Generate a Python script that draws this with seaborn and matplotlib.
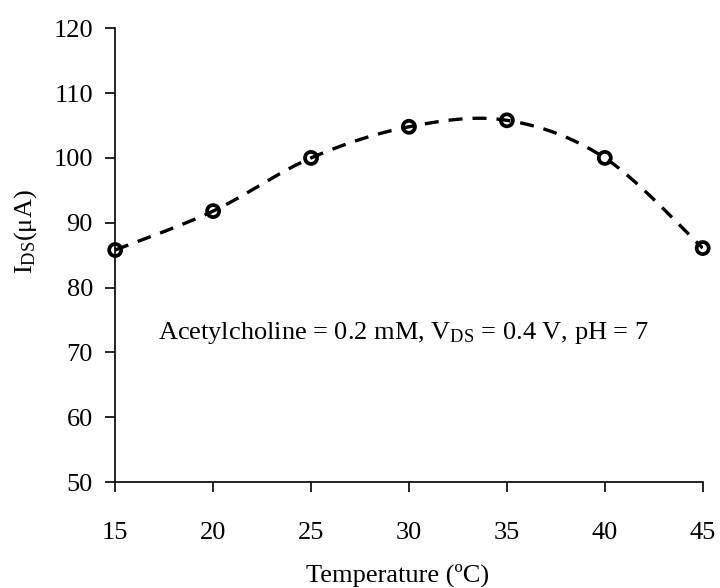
import numpy as np
import pandas as pd
import matplotlib
matplotlib.use("Agg")
import matplotlib.pyplot as plt
import seaborn as sns

temperature = [15, 20, 25, 30, 35, 40, 45]
current = [85.8, 91.8, 100.0, 104.8, 105.8, 100.0, 86.1]
x_ticks = [15, 20, 25, 30, 35, 40, 45]
y_ticks = [50, 60, 70, 80, 90, 100, 110, 120]
annotation = "Acetylcholine = 0.2 mM, V$_{\\mathrm{DS}}$ = 0.4 V, pH = 7"
xlabel = "Temperature (ºC)"
ylabel = "I$_{\\mathrm{DS}}$(μA)"

sns.set_theme(style="white")
plt.rcParams["font.family"] = ["Liberation Serif", "DejaVu Serif"]
plt.rcParams["mathtext.fontset"] = "custom"
plt.rcParams["mathtext.rm"] = "Liberation Serif"
plt.rcParams["mathtext.it"] = "Liberation Serif:italic"

df = pd.DataFrame({"T": temperature, "I": current})

# Excel-style smoothed line (Catmull-Rom Bezier) through the points
def smooth(xs, ys, n=40):
    xs = np.asarray(xs, float); ys = np.asarray(ys, float)
    px = np.concatenate([[xs[0]], xs, [xs[-1]]])
    py = np.concatenate([[ys[0]], ys, [ys[-1]]])
    ox, oy = [], []
    t = np.linspace(0, 1, n)
    for i in range(1, len(px) - 2):
        p0 = np.array([px[i], py[i]]); p3 = np.array([px[i + 1], py[i + 1]])
        c1 = p0 + (np.array([px[i + 1], py[i + 1]]) - np.array([px[i - 1], py[i - 1]])) / 6
        c2 = p3 - (np.array([px[i + 2], py[i + 2]]) - np.array([px[i], py[i]])) / 6
        b = ((1 - t) ** 3)[:, None] * p0 + (3 * (1 - t) ** 2 * t)[:, None] * c1 \
            + (3 * (1 - t) * t ** 2)[:, None] * c2 + (t ** 3)[:, None] * p3
        ox.extend(b[:, 0]); oy.extend(b[:, 1])
    return np.array(ox), np.array(oy)

sx, sy = smooth(temperature, current)

fig = plt.figure(figsize=(7.2, 5.88), dpi=100)
ax = fig.add_axes([0.16, 0.18, 0.816, 0.772])

ax.plot(sx, sy, color="black", linestyle=(0, (4.2, 3.0)), linewidth=2.4, zorder=2)
sns.scatterplot(data=df, x="T", y="I", ax=ax, marker="o", s=75,
                facecolor="none", edgecolor="black", linewidth=2.7, zorder=3,
                legend=False, clip_on=False)

ax.set_xlim(15, 45)
ax.set_ylim(50, 120)
ax.set_xticks(x_ticks)
ax.set_yticks(y_ticks)
ax.tick_params(axis="both", direction="out", length=7, width=1.2, color="black",
               labelsize=19, labelcolor="black", bottom=True, left=True)
ax.tick_params(axis="x", pad=22)
ax.tick_params(axis="y", pad=9)
for side in ["top", "right"]:
    ax.spines[side].set_visible(False)
for side in ["left", "bottom"]:
    ax.spines[side].set_color("black")
    ax.spines[side].set_linewidth(1.2)

ax.set_xlabel(xlabel, fontsize=19, color="black", va="center")
ax.set_ylabel(ylabel, fontsize=19, color="black", va="center")
ax.xaxis.set_label_coords(0.481, -0.205)
ax.yaxis.set_label_coords(-0.153, 0.553)

ax.text(29.7, 73, annotation, fontsize=19, color="black", ha="center", va="center")

fig.savefig("out.png", dpi=100, facecolor="white")
